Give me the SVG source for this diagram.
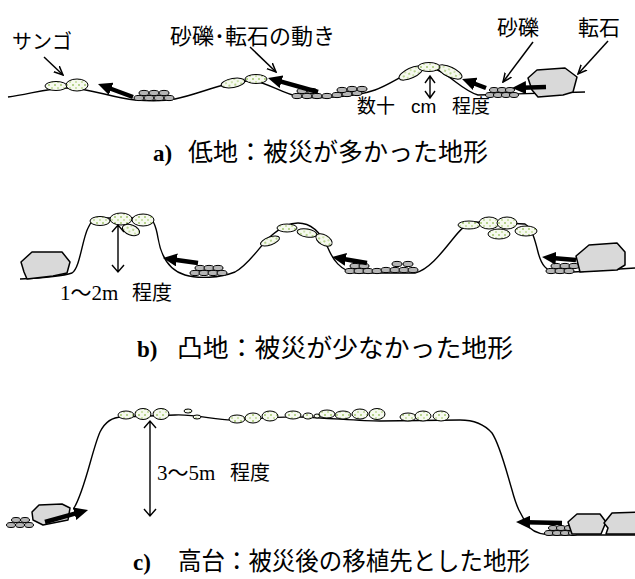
<svg xmlns="http://www.w3.org/2000/svg" width="635" height="579" viewBox="0 0 635 579">
  <style>
    .ground { fill: none; stroke: #000; stroke-width: 1.4; }
    .coral { fill: url(#speckle); stroke: #000; stroke-width: 1; }
    .stone { fill: #b5b5b5; stroke: #000; stroke-width: 1; }
    .rock { fill: #d9d9d9; stroke: #000; stroke-width: 1.5; stroke-linejoin: round; }
    .move { stroke: #000; stroke-width: 4.5; fill: none; marker-end: url(#bigHead); }
    .ptr { stroke: #000; stroke-width: 1.5; fill: none; marker-end: url(#thinHead); }
    .dim { stroke: #000; stroke-width: 1.4; fill: none; }
    .jp { font-family: "Noto Sans CJK JP", "Noto Sans", sans-serif; fill: #000; }
    .lat { font-family: "Liberation Serif", "Noto Sans CJK JP", serif; fill: #000; }
    .cap { font-family: "Liberation Serif", serif; font-weight: bold; fill: #000; }
  </style>
  <defs>
    <pattern id="speckle" width="6" height="6" patternUnits="userSpaceOnUse">
      <rect width="6" height="6" fill="#f6f9ef"/>
      <rect x="0" y="0" width="2" height="2" fill="#b7d48e"/>
      <rect x="3" y="3" width="2" height="2" fill="#cde2ad"/>
    </pattern>
    <marker id="bigHead" viewBox="0 0 14 13" markerWidth="14" markerHeight="13" refX="4" refY="6.5" orient="auto" markerUnits="userSpaceOnUse">
      <path d="M0,0 L14,6.5 L0,13 Z" fill="#000"/>
    </marker>
    <marker id="thinHead" viewBox="0 0 10 10" markerWidth="10" markerHeight="10" refX="9" refY="5" orient="auto" markerUnits="userSpaceOnUse">
      <path d="M0,1 L9,5 L0,9" fill="none" stroke="#000" stroke-width="1.5"/>
    </marker>
  </defs>

  <!-- ===== a) lowland ===== -->
  <g id="panel-a">
    <path class="ground" d="M8,97 C30,94 48,88 68,88 C90,88 112,98 135,100 C150,101 165,101 175,99 C200,94 228,80 252,81 C268,82 280,93 300,97 C320,99 355,97 375,90 C395,83 410,68 428,68 C445,68 460,90 478,95 L585,92"/>
    <g id="a-coral">
      <ellipse class="coral" cx="56" cy="86" rx="11" ry="4.5"/>
      <ellipse class="coral" cx="77" cy="85" rx="11" ry="6"/>
      <ellipse class="coral" cx="233" cy="83" rx="12" ry="4.5" transform="rotate(-10 233 83)"/>
      <ellipse class="coral" cx="256" cy="79" rx="11" ry="4.5"/>
      <ellipse class="coral" cx="411" cy="73" rx="13" ry="5" transform="rotate(-25 411 73)"/>
      <ellipse class="coral" cx="450" cy="72" rx="13" ry="5" transform="rotate(25 450 72)"/>
      <ellipse class="coral" cx="429" cy="67" rx="11" ry="4.5"/>
    </g>
    <g id="a-gravel">
      <ellipse class="stone" cx="139" cy="98" rx="5" ry="2.6"/>
      <ellipse class="stone" cx="149" cy="98" rx="5" ry="2.6"/>
      <ellipse class="stone" cx="159" cy="98" rx="5" ry="2.6"/>
      <ellipse class="stone" cx="169" cy="98" rx="5" ry="2.6"/>
      <ellipse class="stone" cx="144" cy="93" rx="5" ry="2.6"/>
      <ellipse class="stone" cx="154" cy="93" rx="5" ry="2.6"/>
      <ellipse class="stone" cx="164" cy="93" rx="5" ry="2.6"/>

      <ellipse class="stone" cx="297" cy="96" rx="5" ry="2.6"/>
      <ellipse class="stone" cx="307" cy="96" rx="5" ry="2.6"/>
      <ellipse class="stone" cx="317" cy="96" rx="5" ry="2.6"/>
      <ellipse class="stone" cx="327" cy="96" rx="5" ry="2.6"/>
      <ellipse class="stone" cx="337" cy="95" rx="5" ry="2.6"/>
      <ellipse class="stone" cx="347" cy="94" rx="5" ry="2.6"/>
      <ellipse class="stone" cx="357" cy="93" rx="5" ry="2.6"/>
      <ellipse class="stone" cx="302" cy="91" rx="5" ry="2.6"/>
      <ellipse class="stone" cx="312" cy="91" rx="5" ry="2.6"/>
      <ellipse class="stone" cx="342" cy="90" rx="5" ry="2.6"/>
      <ellipse class="stone" cx="352" cy="89" rx="5" ry="2.6"/>
      <ellipse class="stone" cx="362" cy="89" rx="5" ry="2.6"/>

      <ellipse class="stone" cx="490" cy="95" rx="4.5" ry="2.5"/>
      <ellipse class="stone" cx="498" cy="95" rx="4.5" ry="2.5"/>
      <ellipse class="stone" cx="506" cy="95" rx="4.5" ry="2.5"/>
      <ellipse class="stone" cx="514" cy="95" rx="4.5" ry="2.5"/>
      <ellipse class="stone" cx="494" cy="90" rx="4.5" ry="2.5"/>
      <ellipse class="stone" cx="502" cy="90" rx="4.5" ry="2.5"/>
      <ellipse class="stone" cx="510" cy="90" rx="4.5" ry="2.5"/>
    </g>
    <polygon id="a-boulder" class="rock" points="528,78 537,70 565,68 577,77 573,92 563,95 538,97 532,90"/>
    <g id="a-labels">
      <text class="jp" x="12" y="49" font-size="20">サンゴ</text>
      <text class="jp" x="170" y="44" font-size="22">砂礫･転石の動き</text>
      <text class="jp" x="497" y="35" font-size="21">砂礫</text>
      <text class="jp" x="578" y="35" font-size="21">転石</text>
      <text class="jp" font-size="19" y="113"><tspan x="357">数十</tspan><tspan x="411" font-family="Liberation Sans, sans-serif">cm</tspan><tspan x="452">程度</tspan></text>
    </g>
    <text class="cap" x="153" y="161" font-size="23">a)</text>
    <text class="jp" x="188" y="161" font-size="25" textLength="300" lengthAdjust="spacingAndGlyphs">低地：被災が多かった地形</text>
  </g>

  <!-- ===== b) convex ground ===== -->
  <g id="panel-b">
    <path class="ground" d="M20,279 C40,278 60,277 72,273 C80,268 82,240 88,228 C91,221 94,219 100,218 L148,218 C153,218 156,226 158,238 C161,256 168,270 185,275 C198,279 220,278 235,272 C250,264 260,245 272,235 C280,228 288,223 298,223 C312,223 322,235 328,248 C333,260 340,270 355,273 L415,273 C428,270 440,255 452,240 C460,230 466,223 475,222 L525,224 C532,228 535,240 538,252 C541,264 546,272 558,273 L635,268"/>
    <polygon id="b-boulder-left" class="rock" points="21,262 32,252 62,252 70,262 67,273 53,276 27,279 24,272"/>
    <g id="b-coral">
      <ellipse class="coral" cx="100" cy="221" rx="10" ry="4.5"/>
      <ellipse class="coral" cx="121" cy="219" rx="11" ry="6"/>
      <ellipse class="coral" cx="143" cy="220" rx="11" ry="6"/>
      <ellipse class="coral" cx="131" cy="230" rx="9" ry="5" transform="rotate(20 131 230)"/>
      <ellipse class="coral" cx="270" cy="241" rx="10" ry="4" transform="rotate(-20 270 241)"/>
      <ellipse class="coral" cx="287" cy="228" rx="10" ry="4"/>
      <ellipse class="coral" cx="307" cy="233" rx="10" ry="4" transform="rotate(10 307 233)"/>
      <ellipse class="coral" cx="324" cy="240" rx="9" ry="5" transform="rotate(30 324 240)"/>
      <ellipse class="coral" cx="469" cy="225" rx="11" ry="4"/>
      <ellipse class="coral" cx="499" cy="234" rx="11" ry="5"/>
      <ellipse class="coral" cx="489" cy="223" rx="10" ry="6"/>
      <ellipse class="coral" cx="507" cy="223" rx="10" ry="6"/>
      <ellipse class="coral" cx="526" cy="231" rx="11" ry="5"/>
    </g>
    <g id="b-gravel">
      <ellipse class="stone" cx="195" cy="273" rx="5" ry="2.6"/>
      <ellipse class="stone" cx="204" cy="273" rx="5" ry="2.6"/>
      <ellipse class="stone" cx="213" cy="273" rx="5" ry="2.6"/>
      <ellipse class="stone" cx="222" cy="273" rx="5" ry="2.6"/>
      <ellipse class="stone" cx="200" cy="268" rx="5" ry="2.6"/>
      <ellipse class="stone" cx="209" cy="268" rx="5" ry="2.6"/>
      <ellipse class="stone" cx="218" cy="268" rx="5" ry="2.6"/>

      <ellipse class="stone" cx="350" cy="271" rx="5" ry="2.6"/>
      <ellipse class="stone" cx="359" cy="271" rx="5" ry="2.6"/>
      <ellipse class="stone" cx="368" cy="271" rx="5" ry="2.6"/>
      <ellipse class="stone" cx="377" cy="271" rx="5" ry="2.6"/>
      <ellipse class="stone" cx="386" cy="270" rx="5" ry="2.6"/>
      <ellipse class="stone" cx="395" cy="270" rx="5" ry="2.6"/>
      <ellipse class="stone" cx="404" cy="270" rx="5" ry="2.6"/>
      <ellipse class="stone" cx="413" cy="270" rx="5" ry="2.6"/>
      <ellipse class="stone" cx="355" cy="266" rx="5" ry="2.6"/>
      <ellipse class="stone" cx="364" cy="266" rx="5" ry="2.6"/>
      <ellipse class="stone" cx="397" cy="264" rx="5" ry="2.6"/>
      <ellipse class="stone" cx="408" cy="264" rx="5" ry="2.6"/>

      <ellipse class="stone" cx="551" cy="271" rx="5" ry="2.6"/>
      <ellipse class="stone" cx="560" cy="271" rx="5" ry="2.6"/>
      <ellipse class="stone" cx="569" cy="271" rx="5" ry="2.6"/>
      <ellipse class="stone" cx="556" cy="266" rx="5" ry="2.6"/>
      <ellipse class="stone" cx="565" cy="266" rx="5" ry="2.6"/>
      <ellipse class="stone" cx="574" cy="266" rx="5" ry="2.6"/>
    </g>
    <polygon id="b-boulder-right" class="rock" points="576,256 589,245 617,243 625,252 625,265 617,270 580,272"/>
    <text class="lat" font-size="21" y="300"><tspan x="60">1〜2m</tspan><tspan x="132" class="jp" font-size="20">程度</tspan></text>
    <text class="cap" x="137" y="357" font-size="23">b)</text>
    <text class="jp" x="177" y="357" font-size="25" textLength="336" lengthAdjust="spacingAndGlyphs">凸地：被災が少なかった地形</text>
  </g>

  <!-- ===== c) high ground ===== -->
  <g id="panel-c">
    <path class="ground" d="M74,508 C85,490 92,450 100,432 C105,422 112,417 122,417 L175,415 C195,414 215,420 232,420 C250,420 275,416 300,417 C330,418 360,421 380,421 L460,420 C475,420 485,425 492,433 C500,445 506,470 512,490 C516,505 520,515 530,528 C536,534 545,535 555,535 L635,535"/>
    <g id="c-coral">
      <ellipse class="coral" cx="126" cy="415" rx="8" ry="4"/>
      <ellipse class="coral" cx="143" cy="414" rx="8" ry="5.5"/>
      <ellipse class="coral" cx="161" cy="414" rx="8" ry="5.5"/>
      <ellipse class="coral" cx="188" cy="411" rx="4" ry="2"/>
      <ellipse class="coral" cx="197" cy="417" rx="4" ry="2"/>
      <ellipse class="coral" cx="237" cy="419" rx="8" ry="4"/>
      <ellipse class="coral" cx="253" cy="418" rx="8" ry="5"/>
      <ellipse class="coral" cx="270" cy="416" rx="8" ry="5"/>
      <ellipse class="coral" cx="293" cy="415" rx="8" ry="4"/>
      <ellipse class="coral" cx="308" cy="416" rx="5" ry="3"/>
      <ellipse class="coral" cx="317" cy="416" rx="3" ry="2"/>
      <ellipse class="coral" cx="327" cy="414" rx="8" ry="4"/>
      <ellipse class="coral" cx="343" cy="415" rx="8" ry="4"/>
      <ellipse class="coral" cx="360" cy="414" rx="8" ry="5"/>
      <ellipse class="coral" cx="377" cy="414" rx="8" ry="5.5"/>
      <ellipse class="coral" cx="408" cy="417" rx="8" ry="4"/>
      <ellipse class="coral" cx="423" cy="416" rx="8" ry="5"/>
      <ellipse class="coral" cx="441" cy="416" rx="8" ry="5"/>
    </g>
    <g id="c-gravel">
      <ellipse class="stone" cx="11" cy="525" rx="4.5" ry="2.5"/>
      <ellipse class="stone" cx="20" cy="525" rx="4.5" ry="2.5"/>
      <ellipse class="stone" cx="29" cy="525" rx="4.5" ry="2.5"/>
      <ellipse class="stone" cx="16" cy="520" rx="4.5" ry="2.5"/>
      <ellipse class="stone" cx="25" cy="520" rx="4.5" ry="2.5"/>

      <ellipse class="stone" cx="549" cy="533" rx="4.5" ry="2.5"/>
      <ellipse class="stone" cx="557" cy="533" rx="4.5" ry="2.5"/>
      <ellipse class="stone" cx="565" cy="533" rx="4.5" ry="2.5"/>
      <ellipse class="stone" cx="573" cy="533" rx="4.5" ry="2.5"/>
      <ellipse class="stone" cx="553" cy="528" rx="4.5" ry="2.5"/>
      <ellipse class="stone" cx="561" cy="528" rx="4.5" ry="2.5"/>
      <ellipse class="stone" cx="569" cy="528" rx="4.5" ry="2.5"/>
    </g>
    <polygon id="c-boulder-left" class="rock" points="32,512 39,505 62,504 70,508 68,520 43,525 33,520"/>
    <polygon id="c-boulder-right1" class="rock" points="568,522 577,514 600,514 606,522 601,534 572,534"/>
    <polygon id="c-boulder-right2" class="rock" points="604,523 612,513 642,512 642,534 606,534 608,528"/>
    <text class="lat" font-size="21" y="480"><tspan x="157">3〜5m</tspan><tspan x="230" class="jp" font-size="20">程度</tspan></text>
    <text class="cap" x="133" y="570" font-size="23">c)</text>
    <text class="jp" x="178" y="570" font-size="25" textLength="352" lengthAdjust="spacingAndGlyphs">高台：被災後の移植先とした地形</text>
  </g>

  <!-- ===== arrows and label leaders ===== -->
  <g id="connectors">
    <!-- sediment / boulder movement -->
    <line class="move" x1="133" y1="97" x2="107.4" y2="87.5"/>
    <line class="move" x1="318" y1="92" x2="277.6" y2="80.7"/>
    <line class="move" x1="486" y1="88" x2="471.4" y2="82.5"/>
    <line class="move" x1="546" y1="87" x2="522" y2="87.7"/>
    <line class="move" x1="198" y1="263" x2="172.9" y2="259.4"/>
    <line class="move" x1="367" y1="263" x2="341.9" y2="258.7"/>
    <line class="move" x1="576" y1="260" x2="552" y2="257.9"/>
    <line class="move" x1="45" y1="522" x2="78.4" y2="512.7"/>
    <line class="move" x1="562" y1="523" x2="526" y2="522.2"/>
    <!-- label leaders -->
    <line class="ptr" x1="44" y1="57" x2="63" y2="75"/>
    <line class="ptr" x1="250" y1="47" x2="276" y2="72"/>
    <line class="ptr" x1="533" y1="42" x2="503" y2="82"/>
    <line class="ptr" x1="608" y1="41" x2="578" y2="74"/>
    <!-- height dimensions -->
    <path class="dim" d="M425,83 L430,76 L435,83 M430,76 L430,98 M425,91 L430,98 L435,91"/>
    <path class="dim" d="M112,232 L118,225 L124,232 M118,225 L118,272 M112,265 L118,272 L124,265"/>
    <path class="dim" d="M144,428 L150,421 L156,428 M150,421 L150,516 M144,509 L150,516 L156,509"/>
  </g>
</svg>
